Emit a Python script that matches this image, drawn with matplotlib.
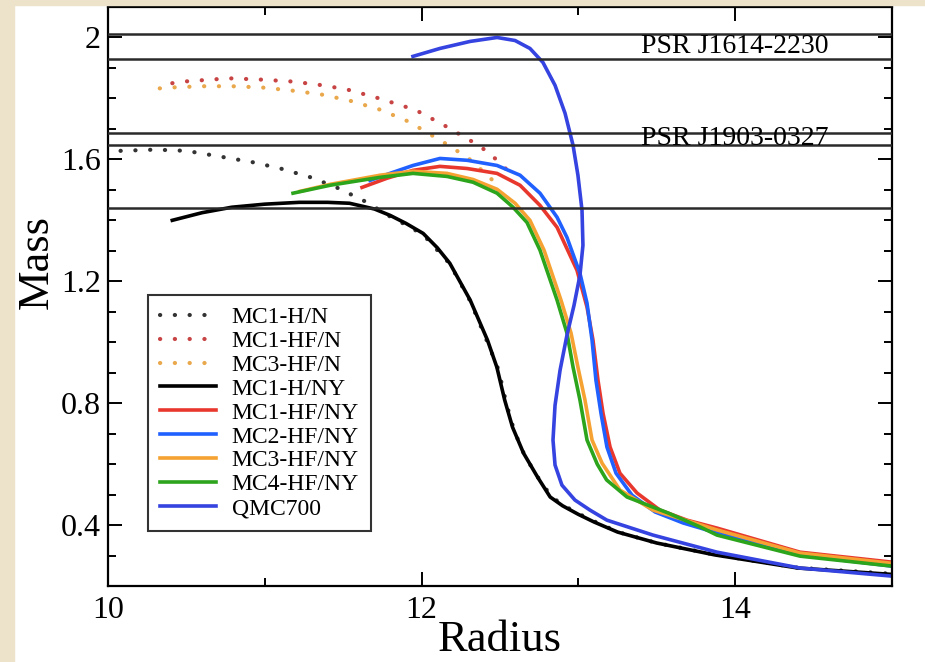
import matplotlib
matplotlib.use("Agg")
import matplotlib.pyplot as plt
from matplotlib.patches import Rectangle

plt.rcParams['font.family'] = ['Liberation Serif', 'DejaVu Serif']

# ---- datos (Radio, Masa) ----
r_mc1_h_n = [10.08, 10.3, 10.5, 10.74, 10.93, 11.1, 11.3, 11.47, 11.64, 11.79, 11.9, 12.01,
             12.18, 12.31, 12.42, 12.49, 12.54, 12.59, 12.66, 12.75, 12.83, 12.91, 13.01,
             13.11, 13.26, 13.5, 13.87, 14.4, 15.0]
m_mc1_h_n = [1.628, 1.632, 1.628, 1.607, 1.59, 1.57, 1.54, 1.505, 1.462, 1.415, 1.385, 1.353,
             1.257, 1.135, 1.0, 0.91, 0.80, 0.71, 0.625, 0.55, 0.492, 0.463, 0.435,
             0.41, 0.376, 0.341, 0.303, 0.26, 0.24]

r_mc1_hf_n = [10.41, 10.5, 10.77, 10.97, 11.16, 11.33, 11.52, 11.71, 11.89, 11.98, 12.15,
              12.32, 12.38, 12.46, 12.53, 12.57]
m_mc1_hf_n = [1.85, 1.856, 1.866, 1.862, 1.856, 1.846, 1.83, 1.803, 1.774, 1.757, 1.71,
              1.659, 1.64, 1.607, 1.574, 1.545]

r_mc3_hf_n = [10.33, 10.41, 10.6, 10.79, 10.98, 11.17, 11.36, 11.54, 11.73, 11.9, 11.98,
              12.14, 12.22, 12.3, 12.44, 12.5]
m_mc3_hf_n = [1.833, 1.836, 1.84, 1.84, 1.836, 1.826, 1.813, 1.793, 1.764, 1.728, 1.705,
              1.656, 1.63, 1.603, 1.538, 1.505]

r_mc1_h_ny = [10.41, 10.6, 10.79, 11.0, 11.22, 11.4, 11.54, 11.7, 11.8, 11.9, 12.01, 12.1,
              12.18, 12.31, 12.42, 12.48, 12.53, 12.58, 12.65, 12.74, 12.82, 12.9, 13.0,
              13.1, 13.25, 13.5, 13.87, 14.4, 15.0]
m_mc1_h_ny = [1.40, 1.425, 1.443, 1.453, 1.459, 1.459, 1.456, 1.437, 1.416, 1.39, 1.357, 1.31,
              1.259, 1.138, 1.007, 0.918, 0.81, 0.721, 0.636, 0.557, 0.492, 0.463, 0.435,
              0.41, 0.377, 0.341, 0.302, 0.259, 0.238]

r_mc1_hf_ny = [11.62, 11.779, 11.945, 12.117, 12.29, 12.481, 12.628, 12.755, 12.864, 12.991,
               13.055, 13.093, 13.125, 13.157, 13.202, 13.265, 13.374, 13.52, 13.693, 13.884,
               14.413, 14.987]
m_mc1_hf_ny = [1.508, 1.538, 1.564, 1.577, 1.57, 1.554, 1.515, 1.449, 1.377, 1.236,
               1.115, 1.007, 0.875, 0.767, 0.656, 0.57, 0.505, 0.449, 0.416, 0.39,
               0.311, 0.279]

r_mc2_hf_ny = [11.671, 11.798, 11.945, 12.117, 12.29, 12.481, 12.628, 12.755, 12.864, 12.927,
               13.01, 13.055, 13.087, 13.112, 13.144, 13.182, 13.24, 13.342, 13.489, 13.667,
               13.884, 14.413, 14.987]
m_mc2_hf_ny = [1.531, 1.554, 1.58, 1.603, 1.597, 1.58, 1.548, 1.489, 1.41, 1.344,
               1.226, 1.128, 1.007, 0.875, 0.767, 0.656, 0.57, 0.498, 0.443, 0.407,
               0.374, 0.302, 0.266]

r_mc3_hf_ny = [11.224, 11.416, 11.735, 11.945, 12.162, 12.328, 12.481, 12.596, 12.691, 12.781,
               12.889, 12.953, 12.997, 13.042, 13.087, 13.151, 13.265, 13.476, 13.884, 14.413,
               14.987]
m_mc3_hf_ny = [1.495, 1.518, 1.548, 1.561, 1.554, 1.534, 1.502, 1.456, 1.40, 1.302,
               1.138, 1.03, 0.918, 0.81, 0.679, 0.603, 0.515, 0.449, 0.384, 0.308,
               0.275]

r_mc4_hf_ny = [11.18, 11.416, 11.735, 11.945, 12.162, 12.328, 12.481, 12.583, 12.672, 12.755,
               12.864, 12.927, 12.966, 13.01, 13.055, 13.12, 13.18, 13.31, 13.57, 13.78,
               13.884, 14.413, 14.987]
m_mc4_hf_ny = [1.489, 1.515, 1.541, 1.554, 1.544, 1.525, 1.489, 1.443, 1.393, 1.302,
               1.138, 1.03, 0.918, 0.81, 0.679, 0.6, 0.548, 0.492, 0.44, 0.393,
               0.367, 0.298, 0.266]

r_qmc700 = [11.945, 12.117, 12.309, 12.481, 12.596, 12.691, 12.774, 12.851, 12.915, 12.966,
            12.997, 13.023, 13.029, 13.01, 12.972, 12.927, 12.883, 12.851, 12.838, 12.851,
            12.895, 12.978, 13.074, 13.182, 13.476, 13.884, 14.413, 14.987]
m_qmc700 = [1.938, 1.964, 1.987, 2.0, 1.99, 1.964, 1.918, 1.843, 1.751, 1.646,
            1.548, 1.433, 1.318, 1.22, 1.121, 1.023, 0.908, 0.793, 0.679, 0.597,
            0.531, 0.482, 0.449, 0.416, 0.367, 0.311, 0.259, 0.233]

# bandas de masas observadas
hlineas = [2.01, 1.93, 1.688, 1.646, 1.44]
pulsares = ['PSR J1614-2230', 'PSR J1903-0327']
masa_pulsares = [1.97, 1.667]

fig = plt.figure(figsize=(9.25, 6.62), dpi=100)
fig.patch.set_facecolor('white')
# marco beige de la captura
fig.patches.append(Rectangle((0, 0), 14 / 925, 1, transform=fig.transFigure,
                             color='#ece3ca', zorder=0))
fig.patches.append(Rectangle((0, 1 - 5 / 662), 1, 5 / 662, transform=fig.transFigure,
                             color='#ece3ca', zorder=0))

ax = fig.add_axes([108 / 925, 1 - 586 / 662, (892 - 108) / 925, (586 - 7) / 662])

punteado = dict(lw=3.0, linestyle=(0, (0.05, 3.5)), dash_capstyle='round')
ax.plot(r_mc1_h_n, m_mc1_h_n, color='#333333', label='MC1-H/N', **punteado)
ax.plot(r_mc1_hf_n, m_mc1_hf_n, color='#c84444', label='MC1-HF/N', **punteado)
ax.plot(r_mc3_hf_n, m_mc3_hf_n, color='#eaa84c', label='MC3-HF/N', **punteado)

ax.plot(r_mc1_h_ny, m_mc1_h_ny, color='black', lw=2.6, label='MC1-H/NY')
ax.plot(r_mc1_hf_ny, m_mc1_hf_ny, color='#e8382e', lw=2.6, label='MC1-HF/NY')
ax.plot(r_mc2_hf_ny, m_mc2_hf_ny, color='#2060ff', lw=2.6, label='MC2-HF/NY')
ax.plot(r_mc3_hf_ny, m_mc3_hf_ny, color='#f5a232', lw=2.6, label='MC3-HF/NY')
ax.plot(r_mc4_hf_ny, m_mc4_hf_ny, color='#2ca41c', lw=2.6, label='MC4-HF/NY')
ax.plot(r_qmc700, m_qmc700, color='#3543e0', lw=2.6, label='QMC700')

for m in hlineas:
    ax.axhline(m, color='#2a2a2a', lw=1.8, zorder=3)

for nombre, m in zip(pulsares, masa_pulsares):
    ax.text(14.0, m, nombre, fontsize=20, ha='center', va='center', zorder=4)

ax.set_xlim(10, 15)
ax.set_ylim(0.2, 2.1)
ax.set_xticks([10, 12, 14])
ax.set_xticks([11, 13], minor=True)
ax.set_yticks([0.4, 0.8, 1.2, 1.6, 2.0])
ax.set_yticklabels(['0.4', '0.8', '1.2', '1.6', '2'])
ax.set_yticks([0.3, 0.5, 0.6, 0.7, 0.9, 1.0, 1.1, 1.3, 1.4, 1.5, 1.7, 1.8, 1.9], minor=True)
ax.tick_params(which='both', direction='in', top=True, right=True, width=1.4,
               labelsize=23)
ax.tick_params(which='major', length=10)
ax.tick_params(which='minor', length=5.5)
ax.tick_params(axis='y', pad=5)
ax.tick_params(axis='x', pad=7)
for s in ax.spines.values():
    s.set_linewidth(1.6)

ax.set_xlabel('Radius', fontsize=32, va='center')
ax.set_ylabel('Mass', fontsize=32, va='center')
ax.xaxis.set_label_coords(0.5, -0.093)
ax.yaxis.set_label_coords(-0.091, 0.56)

leg = ax.legend(loc='upper left', bbox_to_anchor=(0.051, 0.503), borderaxespad=0,
                fontsize=17, frameon=True, fancybox=False, handlelength=2.4,
                handletextpad=0.65, labelspacing=0.1, borderpad=0.5)
leg.get_frame().set_edgecolor('black')
leg.get_frame().set_linewidth(1.5)

fig.savefig('out.png', dpi=100)
